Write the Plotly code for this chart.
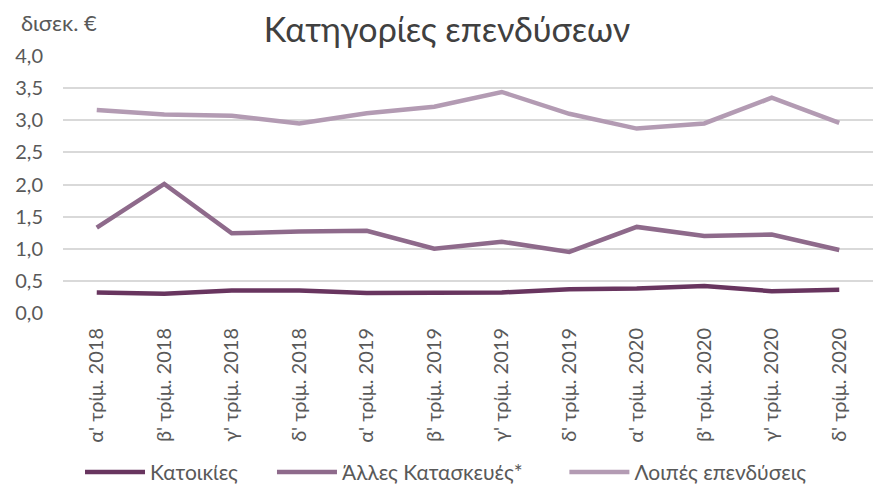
import plotly.graph_objects as go

categories = ["α' τρίμ. 2018", "β' τρίμ. 2018", "γ' τρίμ. 2018", "δ' τρίμ. 2018",
              "α' τρίμ. 2019", "β' τρίμ. 2019", "γ' τρίμ. 2019", "δ' τρίμ. 2019",
              "α' τρίμ. 2020", "β' τρίμ. 2020", "γ' τρίμ. 2020", "δ' τρίμ. 2020"]
katoikies = [0.32, 0.30, 0.35, 0.35, 0.31, 0.32, 0.32, 0.37, 0.38, 0.42, 0.34, 0.36]
alles = [1.33, 2.01, 1.24, 1.27, 1.28, 1.00, 1.11, 0.95, 1.34, 1.20, 1.22, 0.98]
loipes = [3.16, 3.09, 3.07, 2.95, 3.11, 3.21, 3.44, 3.10, 2.87, 2.95, 3.35, 2.96]
y_ticks = [0, 0.5, 1, 1.5, 2, 2.5, 3, 3.5, 4]

FONT = "Lato"
series = [("Κατοικίες", katoikies, "#68355F", "legend"),
          ("Άλλες Κατασκευές*", alles, "#8E6A8B", "legend2"),
          ("Λοιπές επενδύσεις", loipes, "#B39BB3", "legend3")]
fig = go.Figure()
for name, vals, col, lg in series:
    fig.add_trace(go.Scatter(x=categories, y=vals, name=name, mode="lines", legend=lg,
                             showlegend=True, line=dict(color=col, width=4.5)))

leg_common = dict(orientation="h", y=-0.62, yanchor="middle", xanchor="left",
                  font=dict(size=21, color="#595959"), itemwidth=60,
                  bgcolor="rgba(0,0,0,0)")
fig.update_layout(
    width=873, height=486,
    showlegend=True,
    margin=dict(l=63, r=0, t=56, b=173, autoexpand=False),
    paper_bgcolor="white", plot_bgcolor="white",
    separators=", ",
    font=dict(family=FONT, color="#595959", size=20),
    title=dict(text="Κατηγορίες επενδύσεων", x=0.512, xanchor="center", y=0.938, yanchor="middle",
               font=dict(family=FONT, size=34, color="#404040")),
    xaxis=dict(type="category", range=[-0.5, 11.5], tickangle=-90, showgrid=False,
               showline=False, ticks="", ticklabelstandoff=10,
               tickfont=dict(size=20, color="#595959")),
    yaxis=dict(range=[0, 4], tickvals=y_ticks, tickformat=".1f", showgrid=True,
               gridcolor="#D9D9D9", gridwidth=1.5, zeroline=False, showline=False,
               ticks="", ticklabelstandoff=19, tickfont=dict(size=20, color="#595959")),
    legend=dict(x=0.021, **leg_common),
    legend2=dict(x=0.258, **leg_common),
    legend3=dict(x=0.619, **leg_common),
    annotations=[dict(text="δισεκ. €", xref="paper", yref="paper", x=-0.054, y=1.132,
                      xanchor="left", yanchor="middle", showarrow=False,
                      font=dict(size=22, color="#595959"))],
)
fig.write_html("out.html", post_script="document.body.style.margin='0';",
               config={"displayModeBar": False})
